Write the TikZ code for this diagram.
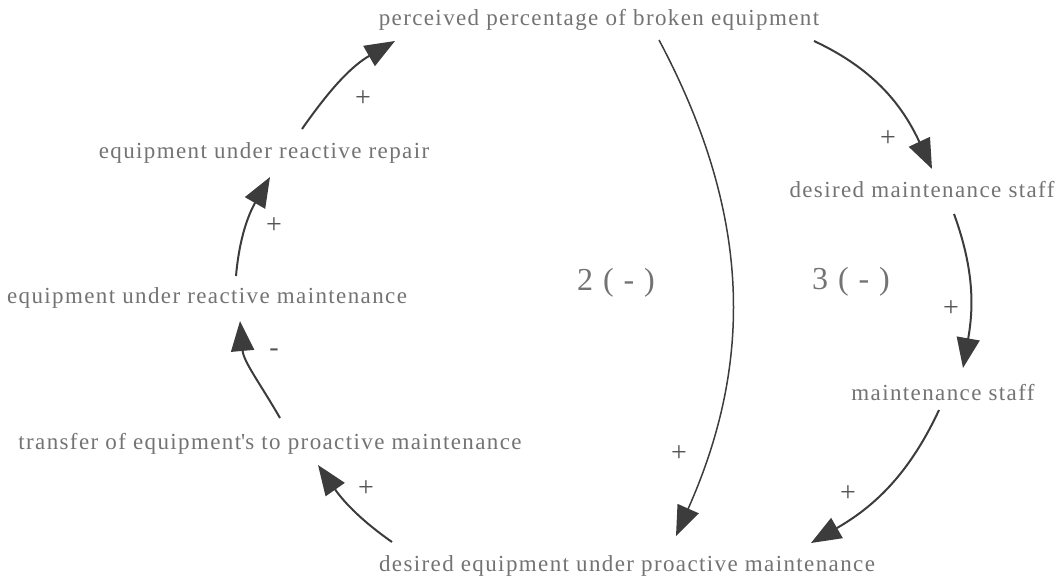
\documentclass[tikz,border=0pt]{standalone}
\usepackage{fontspec}
\setmainfont{Liberation Serif}[LetterSpace=6]
\usetikzlibrary{arrows.meta}
\definecolor{txt}{HTML}{737373}
\definecolor{sgncol}{HTML}{555555}
\definecolor{linecol}{HTML}{3C3C3C}
\begin{document}
\begin{tikzpicture}[x=1pt,y=1pt,
  lbl/.style={font=\fontsize{23}{26}\selectfont, text=txt, inner sep=0pt},
  sgn/.style={font=\fontsize{28}{30}\selectfont, text=sgncol, inner sep=0pt},
  loopl/.style={font=\fontsize{32}{34}\selectfont, text=txt, inner sep=0pt},
  arr/.style={draw=linecol, line width=2pt, -{Triangle[length=30pt,width=23pt]}},
  thinarr/.style={arr, line width=1.5pt}
]
\useasboundingbox (0,0) rectangle (1059,-580);

% variables
\node[lbl] (P)   at (599,-20)  {perceived percentage of broken equipment};
\node[lbl] (R)   at (264,-153) {equipment under reactive repair};
\node[lbl] (M)   at (207,-298) {equipment under reactive maintenance};
\node[lbl] (T)   at (270,-444) {transfer of equipment\textquotesingle s to proactive maintenance};
\node[lbl] (D)   at (627,-566) {desired equipment under proactive maintenance};
\node[lbl] (DMS) at (922,-190) {desired maintenance staff};
\node[lbl] (MS)  at (943,-393) {maintenance staff};

% loop labels
\node[loopl] (L2) at (616,-283) {2 ( - )};
\node[loopl] (L3) at (851,-282) {3 ( - )};

% links
\draw[arr] ([shift={(38,24)}]R.center) to[out=55,in=210] ([shift={(-204,-21)}]P.center);
\draw[arr] ([shift={(29,22)}]M.center) to[out=85,in=240] ([shift={(6,-24)}]R.center);
\draw[arr] ([shift={(10,26)}]T.center) to[out=120,in=275] ([shift={(33,-23)}]M.center);
\draw[arr] ([shift={(-235,24)}]D.center) to[out=145,in=-55] ([shift={(48,-21)}]T.center);
\draw[thinarr] ([shift={(60,-20)}]P.center) to[out=-62,in=66] ([shift={(49,30)}]D.center);
\draw[arr] ([shift={(215,-21)}]P.center) to[out=-25,in=115] ([shift={(10,21)}]DMS.center);
\draw[arr] ([shift={(32,-24)}]DMS.center) to[out=-70,in=80] ([shift={(20,25)}]MS.center);
\draw[arr] ([shift={(-4,-17)}]MS.center) to[out=-115,in=30] ([shift={(184,23)}]D.center);

% polarities
\node[sgn] (s1) at (363,-99)  {+};
\node[sgn] (s2) at (274,-226) {+};
\node[sgn] (s3) at (274,-353) {-};
\node[sgn] (s4) at (366,-489) {+};
\node[sgn] (s5) at (679,-454) {+};
\node[sgn] (s6) at (888,-139) {+};
\node[sgn] (s7) at (951,-309) {+};
\node[sgn] (s8) at (848,-494) {+};
\end{tikzpicture}
\end{document}
